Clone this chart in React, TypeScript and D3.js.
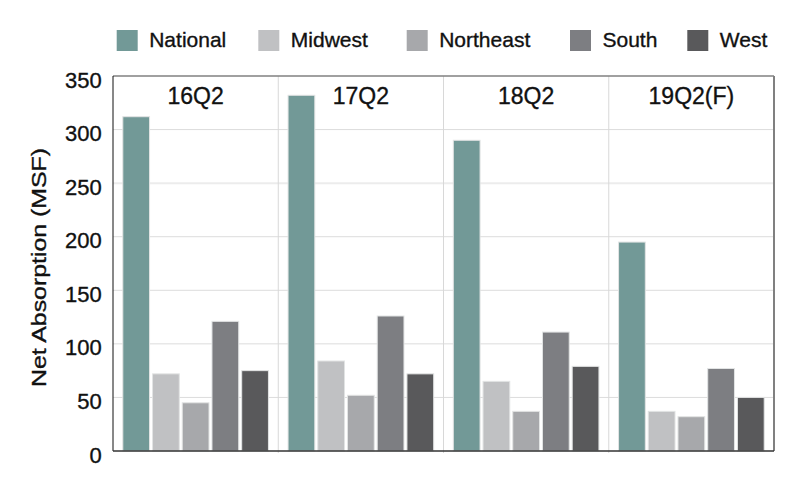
import React from 'react';
import * as d3 from 'd3';

const periods = ['16Q2', '17Q2', '18Q2', '19Q2(F)'];
const regions = ['National', 'Midwest', 'Northeast', 'South', 'West'];

const national = [312, 332, 290, 195];
const midwest = [72, 84, 65, 37];
const northeast = [45, 52, 37, 32];
const south = [121, 126, 111, 77];
const west = [75, 72, 79, 50];

const yTicks = [0, 50, 100, 150, 200, 250, 300, 350];

const seriesValues: Record<string, number[]> = {
  National: national,
  Midwest: midwest,
  Northeast: northeast,
  South: south,
  West: west,
};

const colors: Record<string, string> = {
  National: '#729997',
  Midwest: '#c0c1c3',
  Northeast: '#a7a8ab',
  South: '#7d7e82',
  West: '#59595b',
};

const width = 800;
const height = 483;
const margin = { top: 76, right: 26, bottom: 32, left: 113 };
const font = '"Liberation Sans", Arial, Helvetica, sans-serif';

// legend swatch positions, left to right
const legendX = [116.7, 258.3, 406.7, 570, 687.3];

// a hairline stroke to get closer to the heavier text of the original
const ink = { fill: '#111', stroke: '#111', strokeWidth: 0.35 };

export default function App() {
  const x0 = d3.scaleBand<string>()
    .domain(periods)
    .range([margin.left, width - margin.right]);

  const x1 = d3.scaleBand<string>()
    .domain(regions)
    .range([0, x0.bandwidth()])
    .paddingInner(0.1)
    .paddingOuter(0.33);

  const y = d3.scaleLinear()
    .domain([0, 350])
    .range([height - margin.bottom, margin.top]);

  const left = margin.left;
  const right = width - margin.right;
  const top = margin.top;
  const bottom = height - margin.bottom;

  return (
    <svg
      width={width}
      height={height}
      style={{ position: 'absolute', left: 0, top: 0, background: '#fff' }}
      fontFamily={font}
    >
      {/* legend */}
      {regions.map((r, i) => (
        <g key={r} transform={`translate(${legendX[i]},30)`}>
          <rect width={21} height={21} fill={colors[r]} />
          <text x={32.5} y={16.8} fontSize={21} {...ink}>{r}</text>
        </g>
      ))}

      {/* horizontal grid */}
      {yTicks.filter(t => t > 0 && t < 350).map(t => (
        <line key={t} x1={left} x2={right} y1={y(t)} y2={y(t)}
          stroke={t === 250 ? '#ececec' : '#dcdcdc'} strokeWidth={t === 250 ? 2 : 1} />
      ))}

      {/* panel dividers */}
      {periods.slice(1).map(p => (
        <line key={p} x1={x0(p)!} x2={x0(p)!} y1={top} y2={bottom + 2}
          stroke="#d8d8d8" strokeWidth={1} />
      ))}

      {/* bars */}
      {periods.map((p, pi) => (
        <g key={p} transform={`translate(${x0(p)},0)`}>
          {regions.map(r => {
            const v = seriesValues[r][pi];
            return (
              <rect key={r}
                x={x1(r)!}
                y={y(v)}
                width={x1.bandwidth()}
                height={y(0) - y(v)}
                fill={colors[r]}
                stroke="#e2e4e4"
                strokeWidth={1}
              />
            );
          })}
          <text x={x0.bandwidth() / 2} y={104} textAnchor="middle" fontSize={23} {...ink}>{p}</text>
        </g>
      ))}

      {/* frame */}
      <line x1={left} x2={right} y1={top} y2={top} stroke="#808080" strokeWidth={1.5} />
      <line x1={right} x2={right} y1={top} y2={bottom} stroke="#808080" strokeWidth={2} />
      <line x1={left} x2={left} y1={top} y2={bottom} stroke="#111" strokeWidth={1} />
      <line x1={left} x2={right} y1={bottom} y2={bottom} stroke="#333" strokeWidth={1.5} />

      {/* y tick labels */}
      {yTicks.map(t => (
        <text key={t} x={101.7} y={y(t) + 11.5} textAnchor="end" fontSize={22} {...ink}>{t}</text>
      ))}

      {/* y axis title */}
      <text
        transform={`translate(46,${(top + bottom) / 2 + 4}) rotate(-90)`}
        textAnchor="middle"
        fontSize={20}
        textLength={239}
        lengthAdjust="spacingAndGlyphs"
        {...ink}
      >
        Net Absorption (MSF)
      </text>
    </svg>
  );
}
